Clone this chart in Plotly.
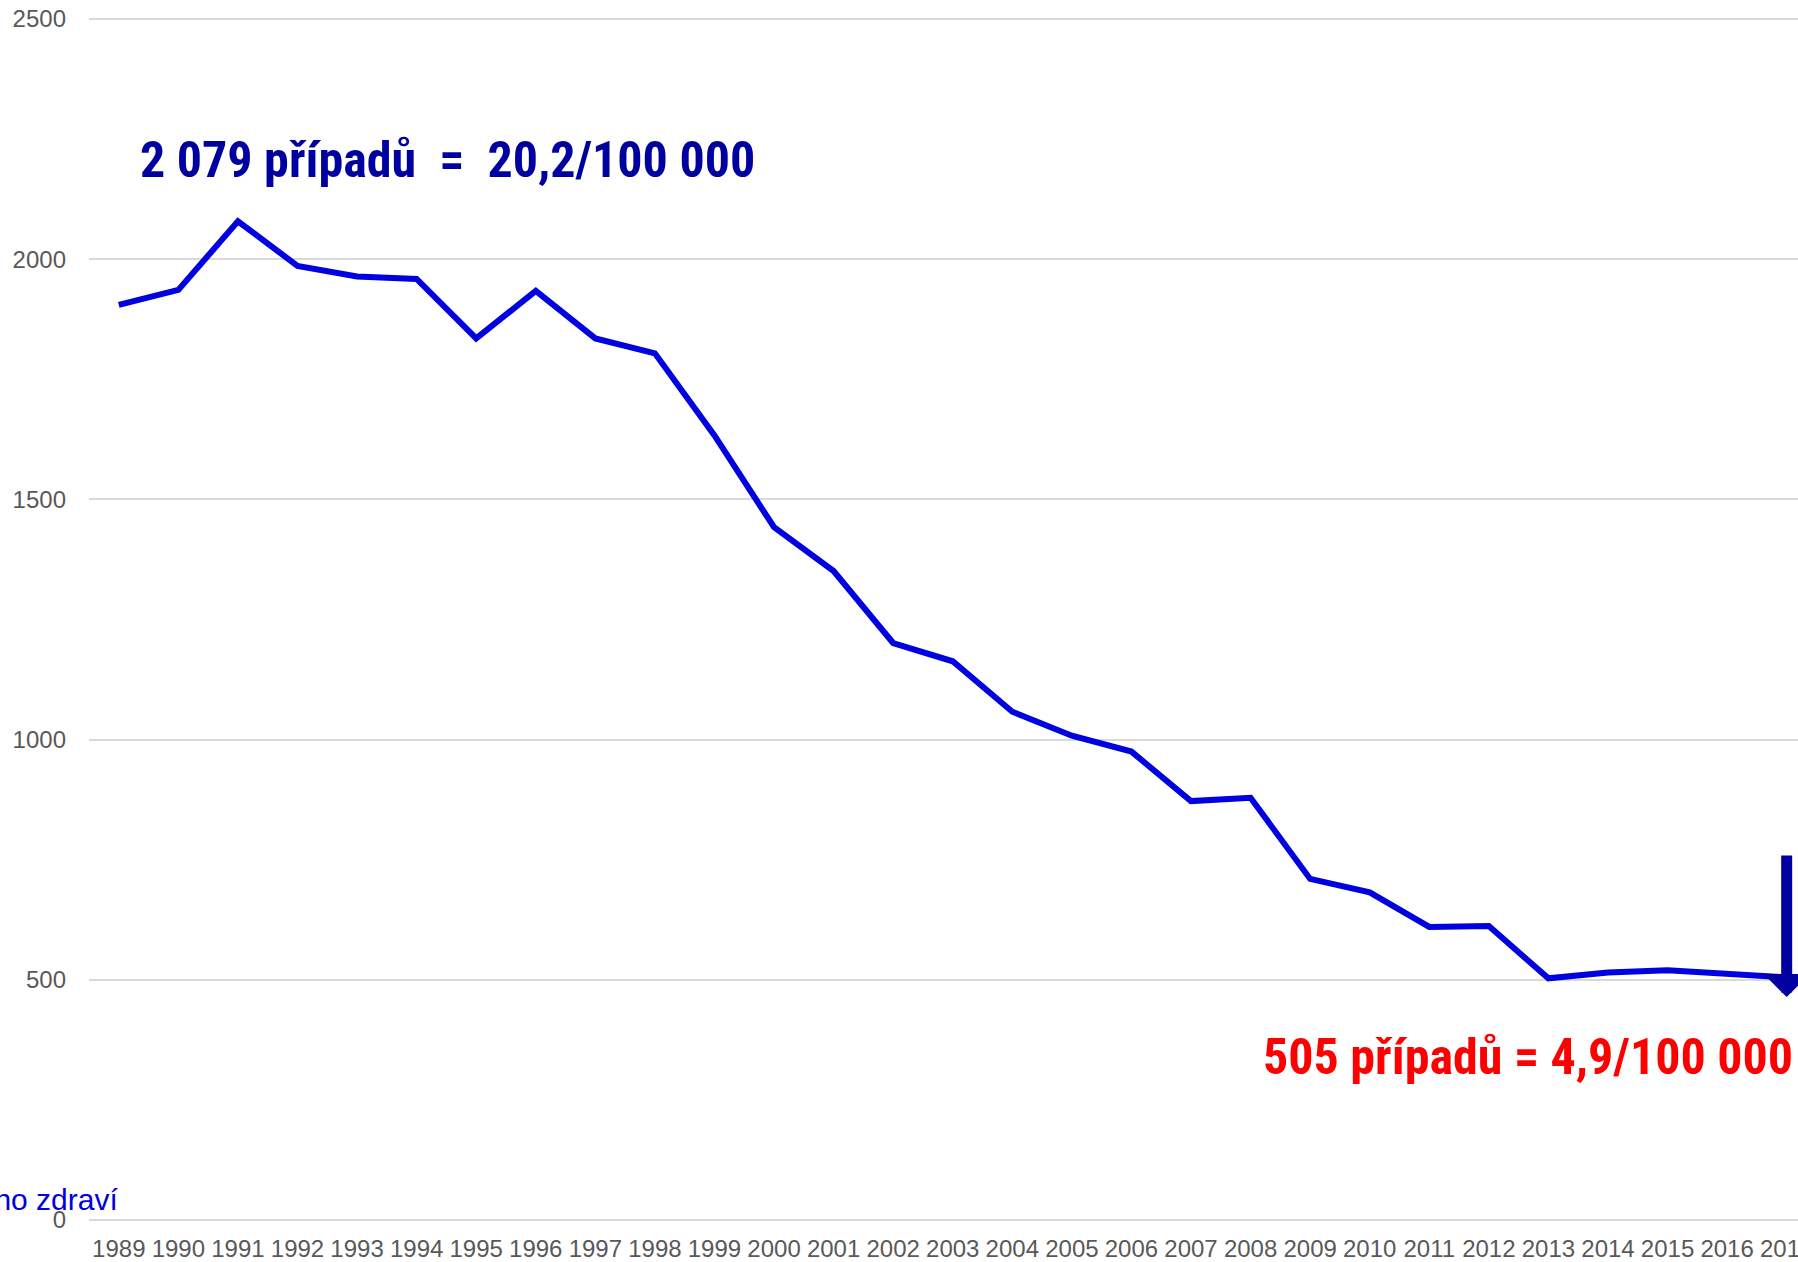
"""
Vývoj počtu případů 1989-2017 (čárový graf)
"""
import plotly.graph_objects as go

years = list(range(1989, 2018))
cases = [1905, 1936, 2079, 1986, 1964, 1959, 1835, 1934, 1835, 1804,
         1633, 1442, 1351, 1201, 1163, 1058, 1008, 975, 872, 879,
         710, 682, 610, 612, 503, 515, 520, 512, 505]
y_ticks = [0, 500, 1000, 1500, 2000, 2500]

LINE_BLUE = '#0000E0'
DARK_BLUE = '#0000A0'
TICK_GRAY = '#595959'
GRID_GRAY = '#D9D9D9'
NARROW = 'Roboto Condensed, Arial Narrow, Liberation Sans, sans-serif'
REGULAR = 'Liberation Sans, Arial, sans-serif'

fig = go.Figure()
fig.add_trace(go.Scatter(
    x=years,
    y=cases,
    mode='lines',
    line=dict(color=LINE_BLUE, width=6),
    showlegend=False,
    hoverinfo='x+y'
))

# popisek maxima
fig.add_annotation(
    x=1989.32, y=2206, xref='x', yref='y',
    xanchor='left', yanchor='middle', showarrow=False,
    text='<b>2 079 případů  =  20,2/100 000</b>',
    font=dict(family=NARROW, size=50, color=DARK_BLUE)
)

# popisek posledního roku
fig.add_annotation(
    x=2017.14, y=339, xref='x', yref='y',
    xanchor='right', yanchor='middle', showarrow=False,
    text='<b>505 případů = 4,9/100 000</b>',
    font=dict(family=NARROW, size=50, color='#FF0000')
)

# šipka dolů u roku 2017
fig.add_annotation(
    x=2017, y=464, xref='x', yref='y',
    ax=2017, ay=762, axref='x', ayref='y',
    text='', showarrow=True, standoff=0,
    arrowhead=1, arrowsize=0.7, arrowwidth=11, arrowcolor=DARK_BLUE
)

# zdroj (oříznutý u levého okraje)
fig.add_annotation(
    x=1989.02, y=42, xref='x', yref='y',
    xanchor='right', yanchor='middle', showarrow=False,
    text='veřejného zdraví',
    font=dict(family=REGULAR, size=30, color=LINE_BLUE)
)

fig.update_layout(
    template='none',
    width=1798,
    height=1262,
    margin=dict(l=89, r=0, t=16, b=42),
    paper_bgcolor='white',
    plot_bgcolor='white',
    showlegend=False,
    font=dict(family=REGULAR, size=24, color=TICK_GRAY),
    xaxis=dict(
        tickmode='array',
        tickvals=years,
        ticktext=[str(y) for y in years],
        range=[1988.5, 2017.19],
        automargin=False,
        showgrid=False,
        zeroline=False,
        showline=False,
        ticks='',
        ticklabelstandoff=12,
        ticklabeloverflow='allow',
        tickfont=dict(family=REGULAR, size=24, color=TICK_GRAY),
        fixedrange=True
    ),
    yaxis=dict(
        range=[0, 2506.2],
        tickmode='array',
        tickvals=y_ticks,
        automargin=False,
        showgrid=True,
        gridcolor=GRID_GRAY,
        gridwidth=2,
        zeroline=True,
        zerolinecolor=GRID_GRAY,
        zerolinewidth=2,
        showline=False,
        ticks='',
        ticklabelstandoff=22,
        ticklabeloverflow='allow',
        tickfont=dict(family=REGULAR, size=24, color=TICK_GRAY),
        fixedrange=True
    )
)

# bez okraje stránky, aby graf vyplnil celé okno
fig.write_html(
    "out.html",
    config={'displayModeBar': False},
    post_script="document.body.style.margin = '0';"
)
